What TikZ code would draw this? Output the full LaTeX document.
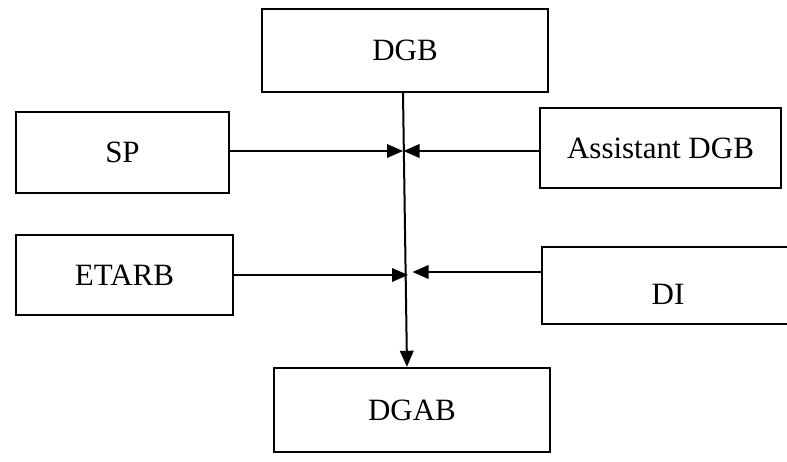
\documentclass[tikz,border=0pt]{standalone}
\usepackage{fontspec}
\setmainfont{Liberation Serif}
\usetikzlibrary{arrows.meta}
\begin{document}
\begin{tikzpicture}[x=1pt,y=-1pt,
  box/.style={draw, line width=2.4pt, inner sep=0pt, font=\fontsize{31}{36}\selectfont},
  conn/.style={line width=2pt},
  tip/.style={-{Triangle[length=16pt,width=13.5pt]}}]
\useasboundingbox (0,0) rectangle (787,462);
\fill[white] (0,0) rectangle (787,462);
\clip (0,0) rectangle (787,462);
\node[box, minimum width=286pt, minimum height=83pt] (DGB) at (405,50.5) {DGB};
\node[box, minimum width=213pt, minimum height=81pt] (SP) at (122.5,152.5) {SP};
\node[box, minimum width=241pt, minimum height=80pt] (ADGB) at (660.5,148) {Assistant DGB};
\node[box, minimum width=217pt, minimum height=80pt] (ETARB) at (124.5,275) {ETARB};
\node[box, minimum width=252pt, minimum height=77pt] (DI) at (668,285.5) {};
\node[font=\fontsize{31}{36}\selectfont, inner sep=0pt] (DItext) at (668,294) {DI};
\node[box, minimum width=276pt, minimum height=84pt] (DGAB) at (412,410) {DGAB};
\coordinate (c1l) at (403,151);
\coordinate (c1r) at (403.5,151);
\coordinate (c2l) at (408,275);
\coordinate (c2r) at (412.5,272);
\draw[conn, tip] ([xshift=-2pt]DGB.south) -- ([xshift=-5pt]DGAB.north);
\draw[conn, tip] (SP.east |- c1l) -- (c1l);
\draw[conn, tip] (ADGB.west |- c1r) -- (c1r);
\draw[conn, tip] (ETARB.east |- c2l) -- (c2l);
\draw[conn, tip] (DI.west |- c2r) -- (c2r);
\end{tikzpicture}
\end{document}
